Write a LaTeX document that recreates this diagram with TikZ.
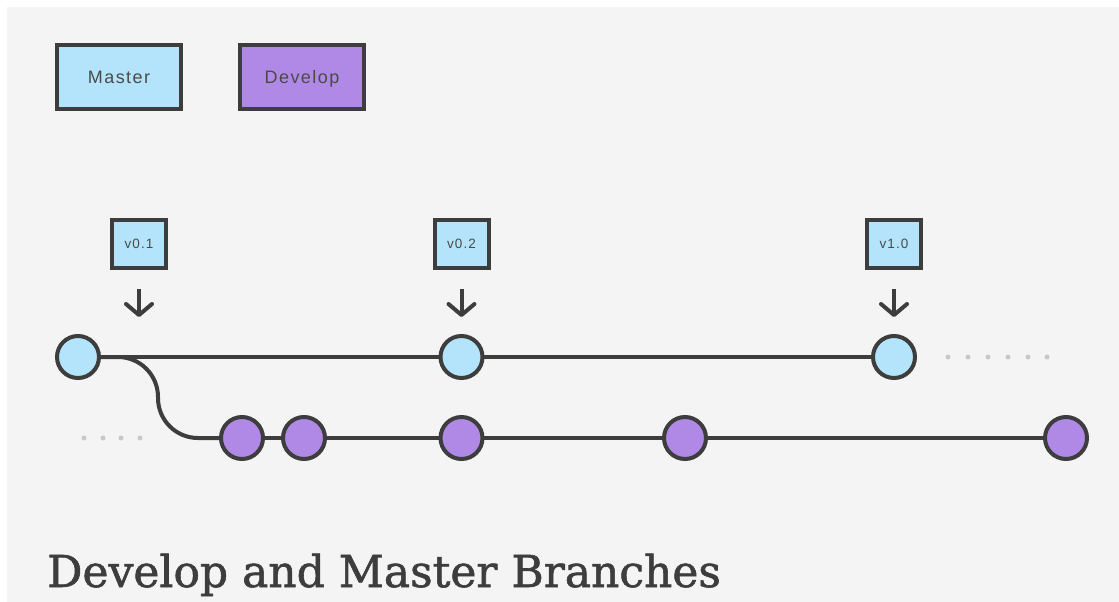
\documentclass[tikz,border=0pt]{standalone}
\usepackage{fontspec}
\newfontfamily\titlefont[FakeBold=1.3]{DejaVu Serif}
\newfontfamily\labelfont[LetterSpace=8]{Liberation Sans}
\usetikzlibrary{arrows.meta}
\definecolor{bg}{HTML}{F4F4F4}
\definecolor{ink}{HTML}{3D3D3D}
\definecolor{mblue}{HTML}{B3E4FC}
\definecolor{dpurple}{HTML}{B088E6}
\definecolor{dotgray}{HTML}{C8C8C8}
\definecolor{txt}{HTML}{4A4A4A}
\tikzset{
  branchbox/.style={draw=ink, line width=4pt, minimum width=124pt, minimum height=63pt, inner sep=0pt, text depth=0pt, font=\labelfont\fontsize{18}{18}\selectfont, text=txt},
  tagbox/.style={draw=ink, fill=mblue, line width=4pt, minimum width=54pt, minimum height=48pt, inner sep=0pt, text depth=0pt, font=\labelfont\fontsize{13.5}{13.5}\selectfont, text=txt},
  commit/.style={circle, draw=ink, line width=4pt, minimum size=42pt, inner sep=0pt},
  mcommit/.style={commit, fill=mblue},
  dcommit/.style={commit, fill=dpurple},
  branchline/.style={draw=ink, line width=4pt},
  tagarrow/.style={draw=ink, line width=4pt, -{Straight Barb[length=11pt, width=26pt, line cap=round, line join=round]}, shorten <=19pt, shorten >=17pt},
  trail/.style={fill=dotgray},
}
\begin{document}
\begin{tikzpicture}[x=1pt, y=-1pt]
\useasboundingbox (0,0) rectangle (1119,602);
\fill[white] (0,0) rectangle (1119,602);
\fill[bg] (7,7) rectangle (1119,602);
% legend
\node[branchbox, fill=mblue] (master) at (119,77) {Master};
\node[branchbox, fill=dpurple] (develop) at (302,77) {Develop};
% tags
\node[tagbox] (t1) at (139,244) {v0.1};
\node[tagbox] (t2) at (461.5,244) {v0.2};
\node[tagbox] (t3) at (894,244) {v1.0};
% commits coordinates
\coordinate (pc1) at (78,357);
\coordinate (pc2) at (461.5,357);
\coordinate (pc3) at (894,357);
\coordinate (pd1) at (242,438);
\coordinate (pd2) at (304,438);
\coordinate (pd3) at (461.5,438);
\coordinate (pd4) at (685,438);
\coordinate (pd5) at (1066,438);
% lines
\draw[branchline] (pc1) -- (pc3);
\draw[branchline] (pd1) -- (pd5);
\draw[branchline, rounded corners=40pt] (pc1) -- (158,357) -- (158,438) -- (pd1);
% nodes
\node[mcommit] (c1) at (pc1) {};
\node[mcommit] (c2) at (pc2) {};
\node[mcommit] (c3) at (pc3) {};
\node[dcommit] (d1) at (pd1) {};
\node[dcommit] (d2) at (pd2) {};
\node[dcommit] (d3) at (pd3) {};
\node[dcommit] (d4) at (pd4) {};
\node[dcommit] (d5) at (pd5) {};
% tag arrows
\draw[tagarrow] (t1.south) -- (t1.south |- c1.north);
\draw[tagarrow] (t2.south) -- (c2.north);
\draw[tagarrow] (t3.south) -- (c3.north);
% trailing dots
\foreach \x in {84,103,121,140} \fill[trail] (\x,438) circle (2.5pt);
\foreach \x in {948,968,988,1008,1028,1047} \fill[trail] (\x,357) circle (2.5pt);
% title
\node[anchor=base west, inner sep=0pt, text=ink, font=\titlefont\fontsize{44}{44}\selectfont] (title) at (47,587) {Develop and Master Branches};
\end{tikzpicture}
\end{document}
